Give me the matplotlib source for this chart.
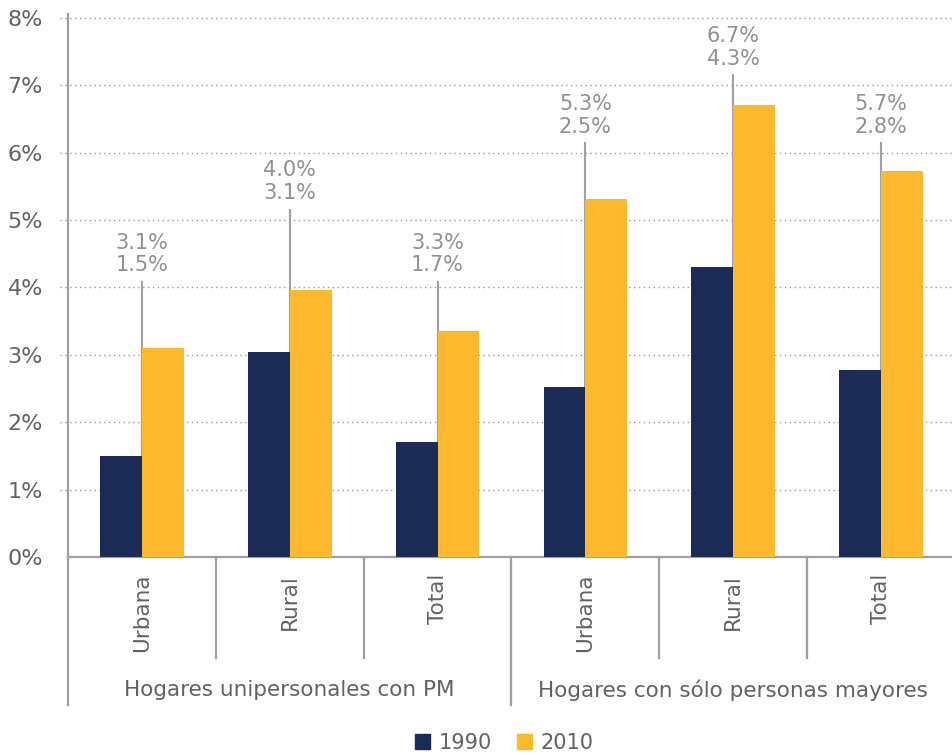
import matplotlib.pyplot as plt
from matplotlib.patches import Patch
from matplotlib.transforms import blended_transform_factory

plt.rcParams['font.family'] = ['DejaVu Sans']

# === datos ===
categorias = ['Urbana', 'Rural', 'Total', 'Urbana', 'Rural', 'Total']
grupos = ['Hogares unipersonales con PM', 'Hogares con sólo personas mayores']
v1990 = [1.5, 3.05, 1.7, 2.53, 4.3, 2.78]
v2010 = [3.1, 3.96, 3.35, 5.31, 6.71, 5.73]
etiqueta_1990 = ['1.5%', '3.1%', '1.7%', '2.5%', '4.3%', '2.8%']
etiqueta_2010 = ['3.1%', '4.0%', '3.3%', '5.3%', '6.7%', '5.7%']
# altura de la línea guía de cada etiqueta (en %)
altura_guia = [4.08, 5.15, 4.08, 6.14, 7.15, 6.14]

AZUL = '#1b2b56'
AMARILLO = '#fcb92e'
GRIS = '#919191'
GRIS_TXT = '#626262'
LINEA = '#a0a0a4'

fig = plt.figure(figsize=(9.53, 7.55), dpi=100)
W, H = 953, 755
x0, x1, y0, y1 = 68, 955, 557, 18
ax = fig.add_axes([x0 / W, 1 - y0 / H, (x1 - x0) / W, (y0 - y1) / H])

x = list(range(len(categorias)))
ancho = 0.283
ax.bar([i - ancho / 2 for i in x], v1990, ancho, color=AZUL, zorder=3)
ax.bar([i + ancho / 2 for i in x], v2010, ancho, color=AMARILLO, zorder=3)

ax.set_xlim(-0.5, len(categorias) - 0.5)
ax.set_ylim(0, 8)

# grilla punteada
trans_h = blended_transform_factory(ax.transAxes, ax.transData)
for yv in range(1, 9):
    ax.plot([-8 / (x1 - x0), 1], [yv, yv], transform=trans_h, color='#9a9a9a',
            lw=1.0, ls=(0, (1, 2.5)), clip_on=False, zorder=1)

# etiquetas con línea guía
for i in x:
    ax.plot([i, i], [0, altura_guia[i]], color=LINEA, lw=1.5, zorder=2)
    ax.annotate(etiqueta_1990[i], (i, altura_guia[i]), xytext=(0, 12),
                textcoords='offset points', ha='center', va='center',
                fontsize=15, color=GRIS)
    ax.annotate(etiqueta_2010[i], (i, altura_guia[i]), xytext=(0, 28.5),
                textcoords='offset points', ha='center', va='center',
                fontsize=15, color=GRIS)

# ejes
for s in ['top', 'right']:
    ax.spines[s].set_visible(False)
ax.spines['left'].set_color(LINEA)
ax.spines['left'].set_linewidth(1.6)
ax.spines['left'].set_bounds(0, 8.06)
ax.spines['bottom'].set_color(LINEA)
ax.spines['bottom'].set_linewidth(1.6)

ax.set_yticks(range(0, 9))
ax.set_yticklabels([f'{v}%' for v in range(0, 9)])
ax.tick_params(axis='y', length=0, pad=18, labelsize=16, labelcolor=GRIS_TXT)
ax.set_xticks([])

# etiquetas de categoría y grupo
trans_v = blended_transform_factory(ax.transData, ax.transAxes)
alto = y0 - y1
for i, c in enumerate(categorias):
    ax.text(i, -17 / alto, c, rotation=90, ha='center', va='top',
            fontsize=15.5, color=GRIS_TXT, transform=trans_v)
for b in [-0.5, 0.5, 1.5, 2.5, 3.5, 4.5]:
    fondo = -148 / alto if b in (-0.5, 2.5) else -101 / alto
    ax.plot([b, b], [0, fondo], transform=trans_v, color=LINEA, lw=1.6,
            clip_on=False)
for g, nombre in enumerate(grupos):
    ax.text(1 + 3 * g, -133 / alto, nombre, ha='center', va='center',
            fontsize=15.5, color=GRIS_TXT, transform=trans_v)

handles = [Patch(color=AZUL, label='1990'), Patch(color=AMARILLO, label='2010')]
fig.legend(handles=handles, loc='center', bbox_to_anchor=(0.529, 12 / H),
           ncol=2, frameon=False, fontsize=15, handlelength=0.75,
           handleheight=0.75, handletextpad=0.4, columnspacing=1.2,
           labelcolor=GRIS_TXT)

fig.savefig('out.png', dpi=100)
